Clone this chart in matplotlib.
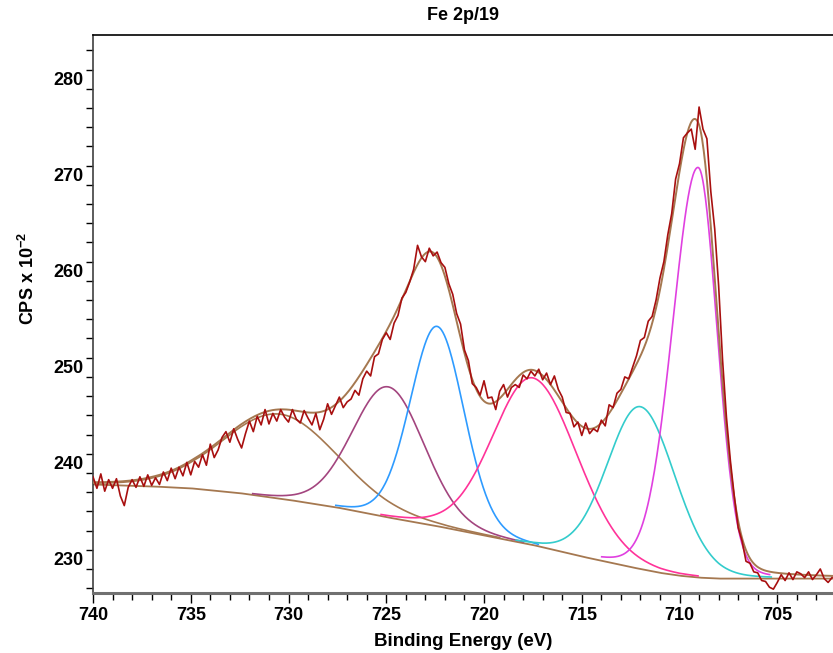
import numpy as np
import matplotlib
matplotlib.use('Agg')
import matplotlib.pyplot as plt
from matplotlib.ticker import MultipleLocator

plt.rcParams['font.family'] = ['Liberation Sans', 'DejaVu Sans']
plt.rcParams['font.weight'] = 'bold'
plt.rcParams['mathtext.default'] = 'regular'

# --- measured spectrum: 0.2 eV steps from 740.0 eV down to 702.2 eV (CPS x 1e-2) ---
be_start = 740.0
be_step = 0.2
cps = [
    239.6, 238.4, 239.9, 238.1, 239.3, 238.4, 239.4, 237.6, 236.6, 238.5,
    239.3, 238.5, 239.6, 238.6, 239.8, 238.7, 239.5, 238.8, 240.1, 239.2,
    240.5, 239.4, 240.6, 239.7, 241.1, 239.8, 241.2, 240.6, 241.9, 240.8,
    243.0, 241.6, 242.4, 243.7, 244.3, 243.2, 244.6, 243.5, 242.6, 244.1,
    245.4, 244.3, 245.9, 245.0, 246.6, 245.1, 246.2, 245.4, 246.6, 245.8,
    245.3, 246.6, 245.6, 245.2, 246.5, 245.7, 245.0, 246.2, 244.5, 245.6,
    247.2, 246.1, 247.0, 247.9, 246.8, 247.4, 247.7, 248.6, 248.1, 249.8,
    250.6, 250.1, 252.1, 252.4, 253.9, 254.6, 253.9, 255.6, 256.4, 258.2,
    258.8, 259.9, 261.2, 263.7, 262.5, 262.0, 263.4, 262.6, 263.0, 261.9,
    261.4, 259.7, 258.6, 256.6, 255.5, 252.8, 251.7, 249.3, 248.9, 248.1,
    249.6, 247.8, 247.9, 246.6, 248.5, 249.2, 247.9, 248.9, 249.2, 248.9,
    250.2, 249.8, 250.6, 250.1, 250.8, 249.7, 250.4, 249.2, 250.1, 248.7,
    247.9, 246.3, 246.2, 244.8, 245.3, 243.9, 245.2, 244.1, 244.6, 244.3,
    245.5, 244.9, 247.1, 246.8, 248.3, 248.7, 250.0, 249.8, 251.0, 252.2,
    253.8, 254.1, 255.8, 256.3, 258.0, 260.3, 262.0, 264.8, 267.0, 270.6,
    272.2, 274.9, 275.4, 275.8, 273.7, 278.1, 275.8, 274.8, 269.3, 265.4,
    259.5, 251.8, 245.8, 241.3, 237.6, 234.3, 232.9, 230.8, 230.6, 229.7,
    229.6, 228.8, 228.7, 228.1, 227.9, 228.6, 229.4, 228.8, 229.6, 228.9,
    229.7, 229.5, 229.1, 229.7, 228.9, 229.4, 230.0, 229.0, 228.6, 229.1,
]
energy = be_start - be_step * np.arange(len(cps))

# --- Shirley background ---
bg_energy = [702.0, 708.0, 709.0, 710.0, 711.0, 712.5, 715.0, 717.5, 720.0,
             722.5, 725.0, 727.5, 730.0, 732.5, 735.0, 737.0, 740.0]
bg_cps = [229.0, 229.0, 229.1, 229.3, 229.6, 230.2, 231.3, 232.5, 233.5,
          234.5, 235.4, 236.4, 237.2, 237.9, 238.4, 238.6, 238.8]

# --- fitted components (height above background) ---
comp_center = [730.4, 724.9, 722.4, 717.5, 712.0, 709.05]
comp_height = [8.8, 13.6, 20.8, 17.4, 16.9, 42.7]
comp_hw_high = [3.5, 2.17, 1.62, 2.43, 2.0, 1.55]   # half width, high-BE side
comp_hw_low = [3.5, 2.17, 1.62, 2.65, 2.1, 1.15]    # half width, low-BE side
comp_colors = ['#a57850', '#a3457f', '#2e9bff', '#ff3399', '#33cccc', '#e040e0']

DATA_COLOR = '#a80f0f'
ENV_COLOR = '#a57850'


def gl_peak(x, c, h, w_hi, w_lo, lor=0.1):
    """Gaussian-Lorentzian line shape with different half widths on each side."""
    w = np.where(x > c, w_hi, w_lo)
    r2 = ((x - c) / w) ** 2
    return h * ((1 - lor) * np.exp(-np.log(2) * r2) + lor / (1 + r2))


xf = np.linspace(740.0, 702.15, 900)
bgf = np.interp(xf, bg_energy, bg_cps)

fig = plt.figure(figsize=(8.33, 6.53), dpi=100)
ax = fig.add_axes([93 / 833, 1 - 593 / 653, 1 - 93 / 833, (593 - 35) / 653])

ax.plot(xf, bgf, color=ENV_COLOR, lw=1.3, zorder=2)

envelope = bgf.copy()
for c, h, whi, wlo, col in zip(comp_center, comp_height, comp_hw_high,
                               comp_hw_low, comp_colors):
    p = gl_peak(xf, c, h, whi, wlo)
    envelope += p
    # draw each component until its tails have run down onto the background
    mask = (xf < c + 3.2 * whi) & (xf > c - 3.2 * wlo)
    ax.plot(xf[mask], (bgf + p)[mask], color=col, lw=1.2, zorder=3)

ax.plot(xf, envelope, color=ENV_COLOR, lw=1.4, zorder=4)
ax.plot(energy, cps, color=DATA_COLOR, lw=1.2, zorder=5)

ax.set_xlim(740, 702.15)
ax.set_ylim(227.5, 285.6)
ax.set_xticks(np.arange(740, 704, -5))
ax.xaxis.set_minor_locator(MultipleLocator(1))
ax.set_yticks(np.arange(230, 290, 10))
ax.yaxis.set_minor_locator(MultipleLocator(2))

ax.tick_params(axis='x', which='major', length=7, width=1, pad=3, labelsize=13)
ax.tick_params(axis='x', which='minor', length=5, width=1)
ax.tick_params(axis='y', which='both', length=5, width=1, pad=2, labelsize=13)
plt.setp(ax.get_yticklabels(), va='bottom')

ax.spines['right'].set_visible(False)
ax.spines['top'].set_linewidth(1.2)
ax.spines['left'].set_linewidth(1.2)
ax.spines['left'].set_color('#404040')
ax.spines['bottom'].set_linewidth(2.2)
ax.spines['bottom'].set_color('#707070')

fig.text(463 / 833, 1 - 16 / 653, 'Fe 2p/19', ha='center', va='center',
         fontsize=13, fontweight='bold')
fig.text(463 / 833, 1 - 642 / 653, 'Binding Energy (eV)', ha='center',
         va='center', fontsize=13.5, fontweight='bold')
fig.text(28 / 833, 1 - 278 / 653, 'CPS x 10$^{-2}$', ha='center', va='center',
         rotation=90, fontsize=13, fontweight='bold')

fig.savefig('out.png', dpi=100)
